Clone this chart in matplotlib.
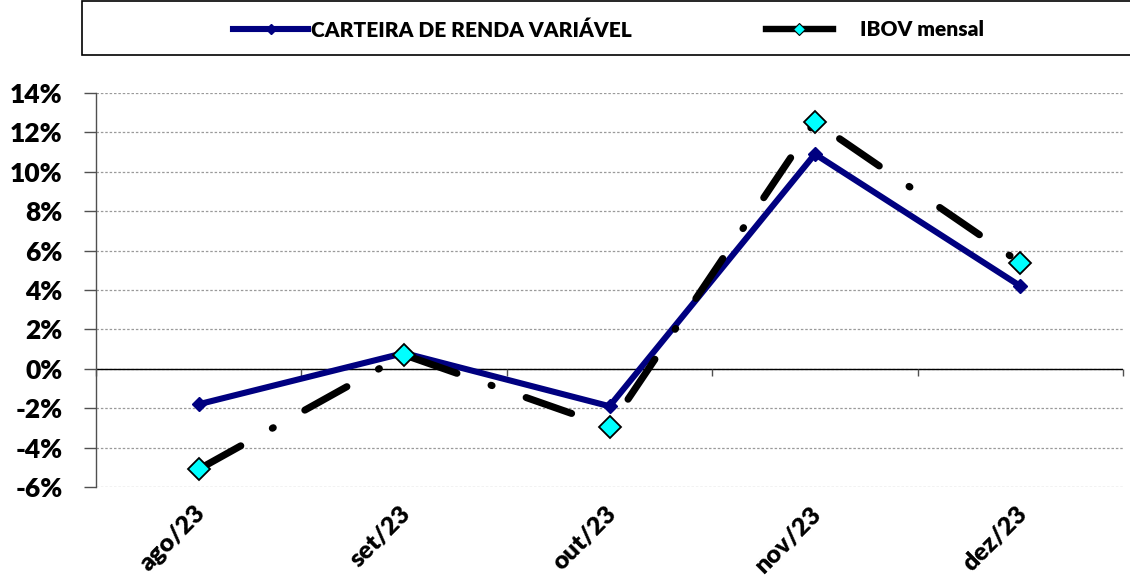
import matplotlib
matplotlib.use("Agg")
import matplotlib.pyplot as plt
from matplotlib.lines import Line2D
from matplotlib.patches import Rectangle
from matplotlib.transforms import offset_copy
from matplotlib.ticker import FuncFormatter

plt.rcParams['font.family'] = ['Lato', 'DejaVu Sans']
peso = 'heavy'

# dados mensais (retorno)
meses = ['ago/23', 'set/23', 'out/23', 'nov/23', 'dez/23']
carteira = [-0.018, 0.008, -0.019, 0.109, 0.042]
ibov = [-0.051, 0.0071, -0.0294, 0.1254, 0.0538]
nome_carteira = 'CARTEIRA DE RENDA VARIÁVEL'
nome_ibov = 'IBOV mensal'

azul = '#000080'
ciano = '#00FFFF'

W, H = 1130, 578
fig = plt.figure(figsize=(W / 100, H / 100), dpi=100)
ax = fig.add_axes([96 / W, 91 / H, (1123 - 96) / W, (487 - 93) / H])

x = list(range(len(meses)))

ax.plot(x, carteira, color=azul, lw=4.4, marker='D', ms=7, mec=azul, mfc=azul,
        solid_joinstyle='miter', zorder=3)
linha_ibov, = ax.plot(x, ibov, color='black', lw=5.1, ls=(0, (6.8, 5.1, 0.15, 5.1)),
                      zorder=4)
linha_ibov.set_dash_capstyle('round')
ax.plot(x, ibov, ls='none', marker='D', ms=11.5, mfc=ciano, mec='black', mew=1.3, zorder=5)

ax.set_xlim(-0.5, len(meses) - 0.5)
ax.set_ylim(-0.06, 0.14)
ax.set_yticks([i / 100 for i in range(-6, 15, 2)])
ax.yaxis.set_major_formatter(FuncFormatter(lambda v, p: '%d%%' % round(v * 100)))
ax.tick_params(axis='y', length=9, width=1, color='#505050', labelsize=19, pad=15)
for lab in ax.get_yticklabels():
    lab.set_fontweight(peso)
ax.grid(axis='y', ls=(0, (2, 1.5)), color='#9a9a9a', lw=0.9)
ax.set_axisbelow(True)

for s in ['top', 'right', 'bottom']:
    ax.spines[s].set_visible(False)
ax.spines['left'].set_color('#505050')
ax.spines['left'].set_linewidth(1)

# linha do zero com marcas entre categorias
ax.axhline(0, color='black', lw=1, zorder=2)
ax.vlines([i - 0.5 for i in range(len(meses) + 1)], -0.0035, 0, color='#505050', lw=1,
          zorder=2, clip_on=False)

ax.set_xticks([])
trans = offset_copy(ax.get_xaxis_transform(), fig=fig, x=-5, y=-15, units='dots')
for i, m in enumerate(meses):
    ax.text(i, 0, m, transform=trans, rotation=45, ha='right', va='top',
            rotation_mode='anchor', fontsize=18, fontweight=peso)

# caixa da legenda
fig.add_artist(Rectangle((82 / W, 1 - 55 / H), (W + 10 - 82) / W, 54 / H,
                         transform=fig.transFigure, facecolor='white',
                         edgecolor='black', lw=1.2, clip_on=False))
h1 = Line2D([], [], color=azul, lw=4.4, marker='D', ms=5, mfc=azul, mec=azul)
h2 = Line2D([], [], color='black', lw=4.6, marker='D', ms=6, mfc=ciano, mec='black', mew=0.8)
leg1 = fig.legend([h1], [nome_carteira], loc='center left', bbox_to_anchor=(233 / W, 1 - 30 / H),
                  frameon=False, borderpad=0, borderaxespad=0, handlelength=3.6,
                  handletextpad=0.15, prop={'size': 15, 'weight': peso})
leg2 = fig.legend([h2], [nome_ibov], loc='center left', bbox_to_anchor=(766 / W, 1 - 30 / H),
                  frameon=False, borderpad=0, borderaxespad=0, handlelength=3.2,
                  handletextpad=1.3, prop={'size': 15, 'weight': peso})

fig.savefig('out.png', dpi=100)
